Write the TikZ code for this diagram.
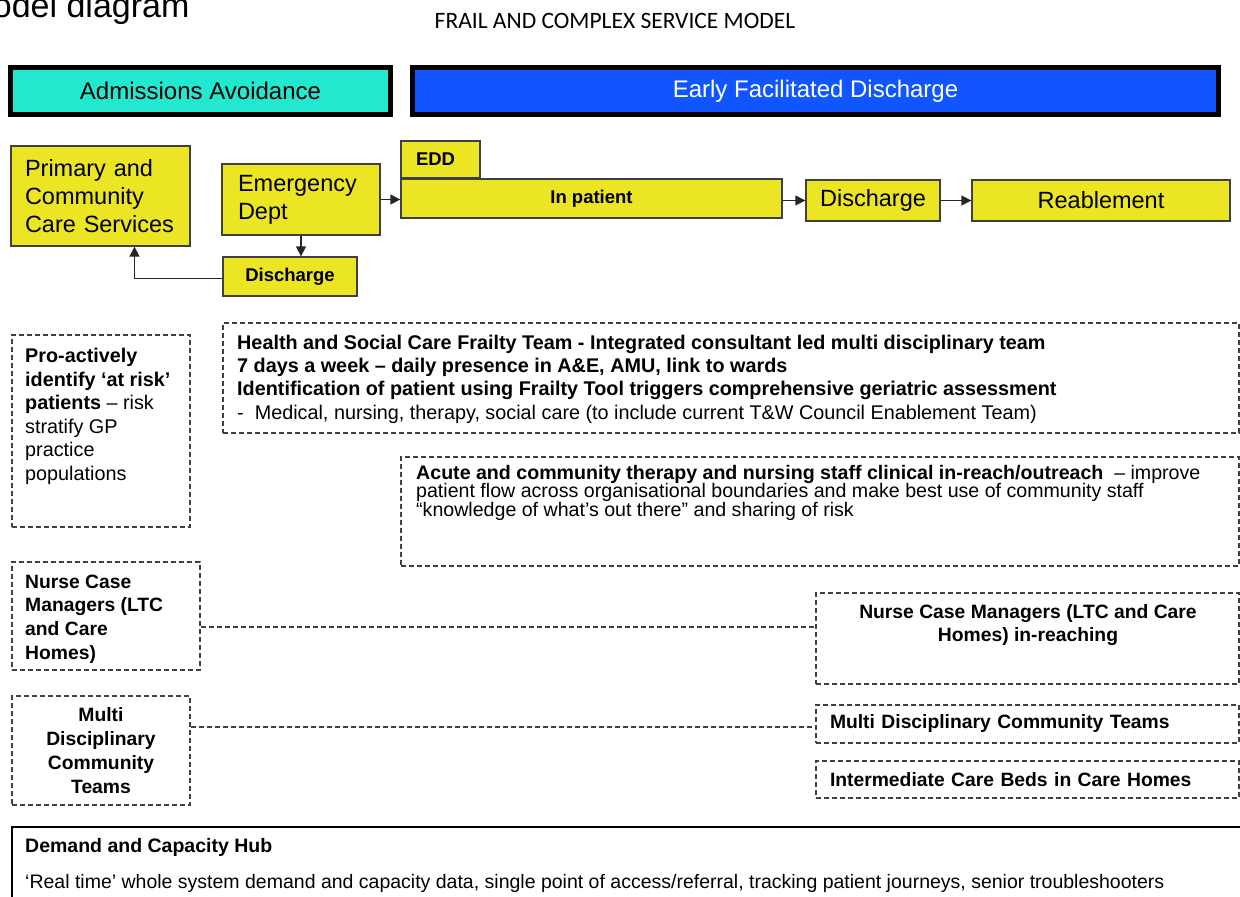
\documentclass[tikz,border=0pt]{standalone}
\usepackage{fontspec}
\setmainfont{Liberation Sans}
\newfontfamily\titlefont{Carlito}
\usetikzlibrary{arrows.meta}
\definecolor{aacyan}{RGB}{34,232,208}
\definecolor{efdblue}{RGB}{17,85,255}
\definecolor{boxyellow}{RGB}{235,229,35}

\begin{document}
\begin{tikzpicture}[x=1pt, y=-1pt,
	band/.style={draw=black, line width=5pt, minimum height=47pt, inner sep=0pt, font=\fontsize{24}{28}\selectfont},
	ybox/.style={draw=black!75, fill=boxyellow, line width=1.3pt, inner sep=0pt},
	dbox/.style={draw=black!75, line width=1.2pt, dash pattern=on 5pt off 3pt, inner sep=0pt},
	big/.style={font=\fontsize{23.5}{28}\selectfont},
	bsmall/.style={font=\bfseries\fontsize{18.5}{22}\selectfont},
	bnote/.style={font=\bfseries\fontsize{19.3}{23.8}\selectfont},
	flow/.style={line width=1.3pt, draw=black!85, -{Triangle[length=10pt,width=10pt]}},
	dlink/.style={line width=1.2pt, draw=black!75, dash pattern=on 5pt off 3pt}]
	\useasboundingbox (0,0) rectangle (1240,897);
	\node[anchor=base east, font=\fontsize{34}{38}\selectfont] (cap) at (193,17) {Model diagram};
	\node[font=\titlefont\fontsize{23.5}{26}\selectfont] (title) at (615,21) {FRAIL AND COMPLEX SERVICE MODEL};
	\node[band, fill=aacyan, minimum width=380pt] (aa) at (200.5,91) {Admissions Avoidance};
	\node[band, fill=efdblue, text=white, minimum width=806pt] (efd) at (815.5,91) {Early Facilitated Discharge};
	\node[ybox, big, minimum width=179pt, minimum height=100pt, text width=151pt, align=left] (prim) at (100.5,196) {Primary and\\Community\\Care Services};
	\node[ybox, big, minimum width=158pt, minimum height=71pt, text width=126pt, align=left] (ed) at (301,199.5) {Emergency\\Dept};
	\node[ybox, bsmall, minimum width=134pt, minimum height=39pt] (dis1) at (290,276.5) {Discharge};
	\node[ybox, bsmall, minimum width=79pt, minimum height=37pt, text width=49pt] (edd) at (440.5,159.5) {EDD};
	\node[ybox, bsmall, minimum width=381pt, minimum height=39pt] (inp) at (591.5,198.5) {In patient};
	\node[ybox, big, minimum width=134pt, minimum height=41pt] (dis2) at (873,200.5) {Discharge};
	\node[ybox, big, minimum width=258pt, minimum height=41pt] (reab) at (1101,200.5) {Reablement};
	\draw[flow] (ed.east) -- (ed.east -| inp.west);
	\draw[flow] (dis2.west -| inp.east) -- (dis2.west);
	\draw[flow] (dis2.east) -- (reab.west);
	\draw[flow] (ed.south) -- (ed.south |- dis1.north);
	\draw[flow] ([yshift=-2pt]dis1.west) -| ([xshift=34pt]prim.south);
	\node[dbox, minimum width=178pt, minimum height=192pt] (prog) at (101,431) {};
	\node[anchor=north west, align=left, inner sep=0pt, font=\fontsize{19.8}{23.6}\selectfont] (progtxt) at (25,348) {\textbf{Pro-actively}\\\textbf{identify ‘at risk’}\\\textbf{patients} – risk\\stratify GP\\practice\\populations};
	\node[dbox, minimum width=1016pt, minimum height=110pt] (hsc) at (731,378) {};
	\node[anchor=north west, align=left, inner sep=0pt, font=\fontsize{19.8}{23.2}\selectfont] (hsctxt) at (237,335) {\textbf{Health and Social Care Frailty Team - Integrated consultant led multi disciplinary team}\\\textbf{7 days a week – daily presence in A\&E, AMU, link to wards}\\\textbf{Identification of patient using Frailty Tool triggers comprehensive geriatric assessment}\\-\ \ Medical, nursing, therapy, social care (to include current T\&W Council Enablement Team)};
	\node[dbox, minimum width=838pt, minimum height=109pt] (acute) at (820,511.5) {};
	\node[anchor=north west, align=left, inner sep=0pt, font=\fontsize{19.6}{18.5}\selectfont] (acutetxt) at (416,465) {\textbf{Acute and community therapy and nursing staff clinical in-reach/outreach}\ \ – improve\\patient flow across organisational boundaries and make best use of community staff\\“knowledge of what’s out there” and sharing of risk};
	\node[dbox, minimum width=188pt, minimum height=108pt] (ncmL) at (106,616) {};
	\node[anchor=north west, align=left, inner sep=0pt, bnote] (ncmLtxt) at (25,574.5) {Nurse Case\\Managers (LTC\\and Care\\Homes)};
	\node[dbox, bnote, minimum width=178pt, minimum height=109pt, align=center] (mdctL) at (101,750.5) {Multi\\Disciplinary\\Community\\Teams};
	\node[dbox, minimum width=423pt, minimum height=91pt] (ncmR) at (1027.5,638.5) {};
	\node[anchor=north, align=center, inner sep=0pt, bnote] (ncmRtxt) at (1028,604) {Nurse Case Managers (LTC and Care\\Homes) in-reaching};
	\node[dbox, bnote, minimum width=423pt, minimum height=38pt, text width=395pt, align=left] (mdctR) at (1027.5,724) {Multi Disciplinary Community Teams};
	\node[dbox, bnote, minimum width=423pt, minimum height=37pt, text width=395pt, align=left] (icb) at (1027.5,779.5) {Intermediate Care Beds in Care Homes};
	\coordinate (ncmlink) at ([yshift=-11pt]ncmL.east);
	\draw[dlink] (ncmlink) -- (ncmlink -| ncmR.west);
	\draw[dlink] ([yshift=-3pt]mdctR.west -| mdctL.east) -- ([yshift=-3pt]mdctR.west);
	\node[draw=black, line width=2.5pt, minimum width=1248pt, minimum height=103pt, inner sep=0pt] (hub) at (636,878.5) {};
	\node[anchor=north west, align=left, inner sep=0pt, font=\fontsize{19.5}{36}\selectfont] (hubtxt) at (25,838) {\textbf{Demand and Capacity Hub}\\‘Real time’ whole system demand and capacity data, single point of access/referral, tracking patient journeys, senior troubleshooters};
\end{tikzpicture}
\end{document}
